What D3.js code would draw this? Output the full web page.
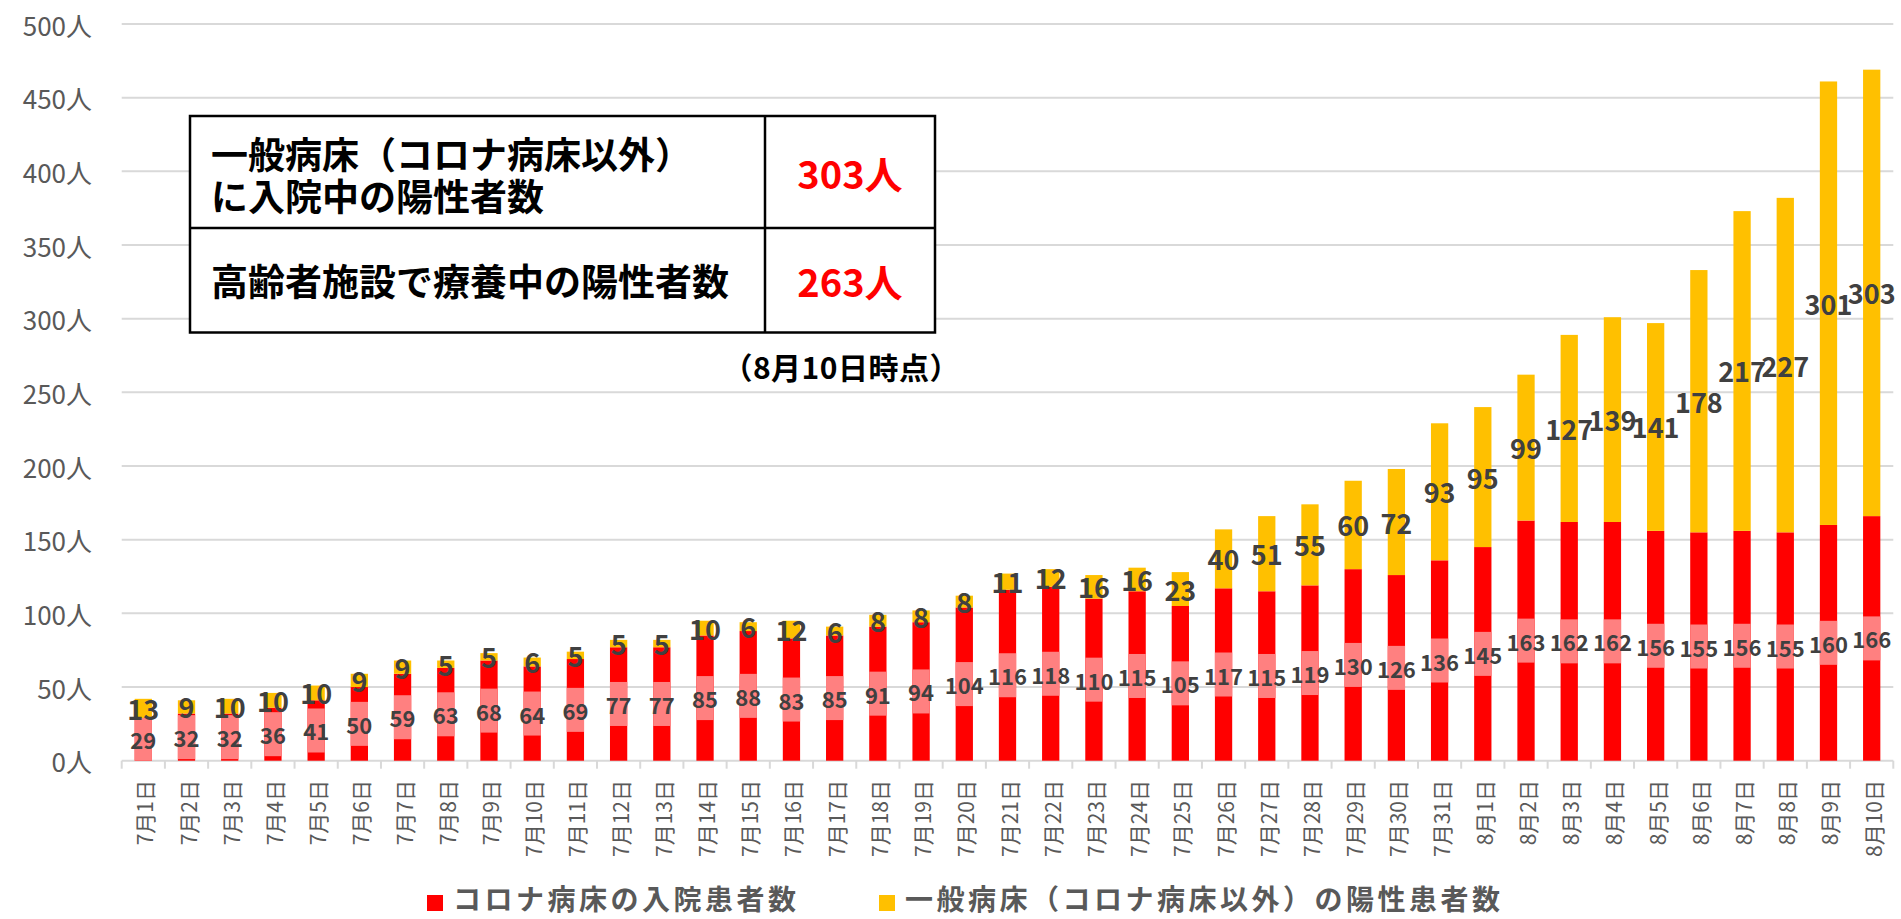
<!DOCTYPE html>
<html>
<head>
<meta charset="utf-8">
<script src="https://cdn.jsdelivr.net/npm/d3@7"></script>
<style>
  html, body { margin: 0; padding: 0; background: #fff; }
  svg { display: block; font-family: "Noto Sans CJK JP", "Noto Sans", sans-serif; }
</style>
</head>
<body>
<svg id="chart" width="1901" height="919"></svg>
<script>
const dates = [
  "7月1日","7月2日","7月3日","7月4日","7月5日","7月6日","7月7日","7月8日","7月9日","7月10日",
  "7月11日","7月12日","7月13日","7月14日","7月15日","7月16日","7月17日","7月18日","7月19日","7月20日",
  "7月21日","7月22日","7月23日","7月24日","7月25日","7月26日","7月27日","7月28日","7月29日","7月30日",
  "7月31日","8月1日","8月2日","8月3日","8月4日","8月5日","8月6日","8月7日","8月8日","8月9日","8月10日"
];
const coronaBeds = [
  29,32,32,36,41,50,59,63,68,64,
  69,77,77,85,88,83,85,91,94,104,
  116,118,110,115,105,117,115,119,130,126,
  136,145,163,162,162,156,155,156,155,160,166
];
const generalBeds = [
  13,9,10,10,10,9,9,5,5,6,
  5,5,5,10,6,12,6,8,8,8,
  11,12,16,16,23,40,51,55,60,72,
  93,95,99,127,139,141,178,217,227,301,303
];
const yTicks = [0,50,100,150,200,250,300,350,400,450,500];
const seriesNames = ["コロナ病床の入院患者数", "一般病床（コロナ病床以外）の陽性患者数"];
const tableRows = [
  { label: ["一般病床（コロナ病床以外）", "に入院中の陽性者数"], value: "303人" },
  { label: ["高齢者施設で療養中の陽性者数"], value: "263人" }
];
const asOfNote = "（8月10日時点）";

const RED = "#FF0000", YEL = "#FFC000", PINK = "#FF8080";
const svg = d3.select("#chart");

const x = d3.scaleBand().domain(dates).range([121.7, 1893.3]).paddingInner(0.6).paddingOuter(0.3);
const y = d3.scaleLinear().domain([0, 500]).range([760.7, 24]);

// gridlines
svg.append("g").selectAll("line").data(yTicks).join("line")
  .attr("x1", 121.7).attr("x2", 1893.3)
  .attr("y1", d => y(d)).attr("y2", d => y(d))
  .attr("stroke", "#d9d9d9").attr("stroke-width", 2);

// y labels
svg.append("g").selectAll("text").data(yTicks).join("text")
  .attr("x", 92).attr("y", d => y(d))
  .attr("text-anchor", "end").attr("dominant-baseline", "central")
  .attr("font-size", 26).attr("fill", "#595959")
  .text(d => d + "人");

// x ticks at category boundaries
const step = x.step();
const x0 = x.range()[0];
const bounds = d3.range(dates.length + 1).map(i => x0 + i * step);
svg.append("g").selectAll("line").data(bounds).join("line")
  .attr("x1", d => d).attr("x2", d => d)
  .attr("y1", y(0)).attr("y2", y(0) + 8)
  .attr("stroke", "#d9d9d9").attr("stroke-width", 2);

// bars
const bw = x.bandwidth();
const gBars = svg.append("g");
dates.forEach((d, i) => {
  const r = coronaBeds[i], g = generalBeds[i];
  gBars.append("rect").attr("x", x(d)).attr("width", bw)
    .attr("y", y(r)).attr("height", y(0) - y(r)).attr("fill", RED);
  gBars.append("rect").attr("x", x(d)).attr("width", bw)
    .attr("y", y(r + g)).attr("height", y(r) - y(r + g)).attr("fill", YEL);
  // pink label band centred on red segment label
  const cy = y(r / 2);
  const top = Math.max(cy - 22, y(r)), bot = Math.min(cy + 22, y(0));
  gBars.append("rect").attr("x", x(d)).attr("width", bw)
    .attr("y", top).attr("height", bot - top).attr("fill", PINK);
});

// labels
const gLab = svg.append("g").attr("fill", "#404040").attr("font-weight", "bold").attr("text-anchor", "middle");
dates.forEach((d, i) => {
  const r = coronaBeds[i], g = generalBeds[i];
  const cx = x(d) + bw / 2;
  gLab.append("text").attr("x", cx).attr("y", y(r / 2))
    .attr("dominant-baseline", "central").attr("font-size", 22).text(r);
  gLab.append("text").attr("x", cx).attr("y", y(r + g / 2))
    .attr("dominant-baseline", "central").attr("font-size", 27).text(g);
});

// x labels (rotated)
svg.append("g").selectAll("text").data(dates).join("text")
  .attr("transform", d => `translate(${x(d) + bw / 2 + 1},780) rotate(-90)`)
  .attr("text-anchor", "end").attr("dominant-baseline", "central")
  .attr("font-size", 21).attr("fill", "#595959")
  .text(d => d);

// legend
const leg = svg.append("g").attr("font-size", 28).attr("font-weight", "bold")
  .attr("fill", "#595959").attr("letter-spacing", 3.5);
[[427, RED, seriesNames[0]], [879, YEL, seriesNames[1]]].forEach(([lx, c, t]) => {
  leg.append("rect").attr("x", lx).attr("y", 895).attr("width", 16).attr("height", 16).attr("fill", c);
  leg.append("text").attr("x", lx + 26).attr("y", 910).text(t);
});

// info table
const tb = svg.append("g");
const tL = 190, tR = 935, tD = 765, tT = 116, tM = 228, tB = 332.5;
tb.append("rect").attr("x", tL).attr("y", tT).attr("width", tR - tL).attr("height", tB - tT)
  .attr("fill", "#fff").attr("stroke", "#000").attr("stroke-width", 2.5);
tb.append("line").attr("x1", tL).attr("x2", tR).attr("y1", tM).attr("y2", tM).attr("stroke", "#000").attr("stroke-width", 2.5);
tb.append("line").attr("x1", tD).attr("x2", tD).attr("y1", tT).attr("y2", tB).attr("stroke", "#000").attr("stroke-width", 2.5);
const rowCenters = [[153, 195], [280]];
tableRows.forEach((row, ri) => {
  row.label.forEach((ln, li) => {
    tb.append("text").attr("x", 211).attr("y", rowCenters[ri][li])
      .attr("dominant-baseline", "central").attr("font-size", 37).attr("font-weight", "bold")
      .attr("fill", "#000").text(ln);
  });
  const cy = ri === 0 ? (tT + tM) / 2 : (tM + tB) / 2;
  tb.append("text").attr("x", (tD + tR) / 2).attr("y", cy)
    .attr("text-anchor", "middle").attr("dominant-baseline", "central")
    .attr("font-size", 38).attr("font-weight", "bold").attr("fill", RED).text(row.value);
});
tb.append("text").attr("x", 960).attr("y", 366).attr("text-anchor", "end")
  .attr("dominant-baseline", "central").attr("font-size", 30).attr("font-weight", "bold")
  .attr("letter-spacing", 0.5).attr("fill", "#000").text(asOfNote);
</script>
</body>
</html>
